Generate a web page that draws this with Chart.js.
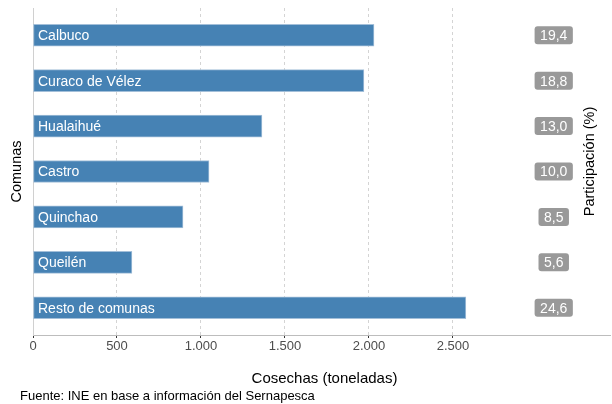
<!DOCTYPE html>
<html>
<head>
<meta charset="utf-8">
<script src="https://cdn.jsdelivr.net/npm/chart.js@4.4.0/dist/chart.umd.min.js"></script>
<style>
html,body{margin:0;padding:0;background:#fff;}
#wrap{width:612px;height:404px;position:relative;}
</style>
</head>
<body>
<div id="wrap"><canvas id="c" width="612" height="404"></canvas></div>
<script>
const categories = ["Calbuco", "Curaco de Vélez", "Hualaihué", "Castro", "Quinchao", "Queilén", "Resto de comunas"];
const harvest = [2030, 1970, 1363, 1048, 893, 589, 2577];
const share = ["19,4", "18,8", "13,0", "10,0", "8,5", "5,6", "24,6"];
const xTicks = [0, 500, 1000, 1500, 2000, 2500];

const FONT = "'Liberation Sans', Arial, Helvetica, sans-serif";
const LABEL_X = 3100;

function fmt(v){ return v.toString().replace(/\B(?=(\d{3})+(?!\d))/g, "."); }

const overlay = {
  id: 'overlay',
  afterDatasetsDraw(chart){
    const ctx = chart.ctx, xs = chart.scales.x, ys = chart.scales.y, ca = chart.chartArea;
    ctx.save();
    // bar labels
    ctx.font = "14px " + FONT;
    ctx.fillStyle = "#ffffff";
    ctx.textBaseline = "middle";
    ctx.textAlign = "left";
    categories.forEach((c, i) => {
      ctx.fillText(c, xs.getPixelForValue(0) + 5, ys.getPixelForValue(i + 1) + 1);
    });
    // share labels
    ctx.font = "14px " + FONT;
    ctx.textAlign = "center";
    share.forEach((s, i) => {
      const cx = xs.getPixelForValue(LABEL_X), cy = ys.getPixelForValue(i + 1);
      const w = ctx.measureText(s).width + 11, h = 18;
      ctx.fillStyle = "#999999";
      ctx.beginPath();
      ctx.roundRect(cx - w / 2, cy - h / 2, w, h, 3);
      ctx.fill();
      ctx.fillStyle = "#ffffff";
      ctx.fillText(s, cx, cy + 1);
    });
    // titles
    ctx.fillStyle = "#000000";
    ctx.font = "15px " + FONT;
    ctx.textAlign = "center";
    ctx.textBaseline = "middle";
    ctx.fillText("Cosechas (toneladas)", (ca.left + ca.right) / 2 + 3, 379);
    ctx.font = "14.5px " + FONT;
    ctx.save();
    ctx.translate(17, (ca.top + ca.bottom) / 2);
    ctx.rotate(-Math.PI / 2);
    ctx.fillText("Comunas", 0, 0);
    ctx.restore();
    ctx.font = "14.5px " + FONT;
    ctx.save();
    ctx.translate(590, 161.5);
    ctx.rotate(-Math.PI / 2);
    ctx.fillText("Participación (%)", 0, 0);
    ctx.restore();
    ctx.font = "13px " + FONT;
    ctx.textAlign = "left";
    ctx.fillText("Fuente: INE en base a información del Sernapesca", 20, 396);
    ctx.restore();
  }
};

new Chart(document.getElementById('c'), {
  type: 'bar',
  data: {
    datasets: [{
      data: harvest.map((v, i) => ({ x: v, y: i + 1 })),
      backgroundColor: '#4682B4',
      borderColor: '#a3bfd9',
      borderWidth: 1,
      borderSkipped: false,
      barThickness: 22
    }]
  },
  options: {
    indexAxis: 'y',
    responsive: false,
    animation: false,
    devicePixelRatio: 1,
    layout: { padding: { left: 0, right: 2, top: 8, bottom: 0 } },
    plugins: { legend: { display: false }, tooltip: { enabled: false } },
    scales: {
      x: {
        type: 'linear',
        min: 0,
        max: 3435,
        afterBuildTicks(scale){ scale.ticks = xTicks.map(v => ({ value: v })); },
        afterFit(scale){ scale.height = 69; },
        ticks: {
          callback: v => fmt(v),
          color: '#4d4d4d',
          font: { size: 13, family: FONT },
          padding: 1,
          maxRotation: 0
        },
        grid: {
          color: '#d4d4d4',
          lineWidth: 1,
          drawTicks: true,
          tickLength: 3,
          tickColor: '#333333',
          tickBorderDash: [1, 0],
          tickWidth: 1
        },
        border: { display: true, color: '#bdbdbd', width: 1, dash: [3, 3] }
      },
      y: {
        type: 'linear',
        min: 0.4,
        max: 7.6,
        offset: false,
        reverse: true,
        afterFit(scale){ scale.width = 33; },
        ticks: { display: false },
        grid: { display: false, drawTicks: false },
        border: { display: true, color: '#d0d0d0', width: 1 }
      }
    }
  },
  plugins: [overlay]
});
</script>
</body>
</html>
